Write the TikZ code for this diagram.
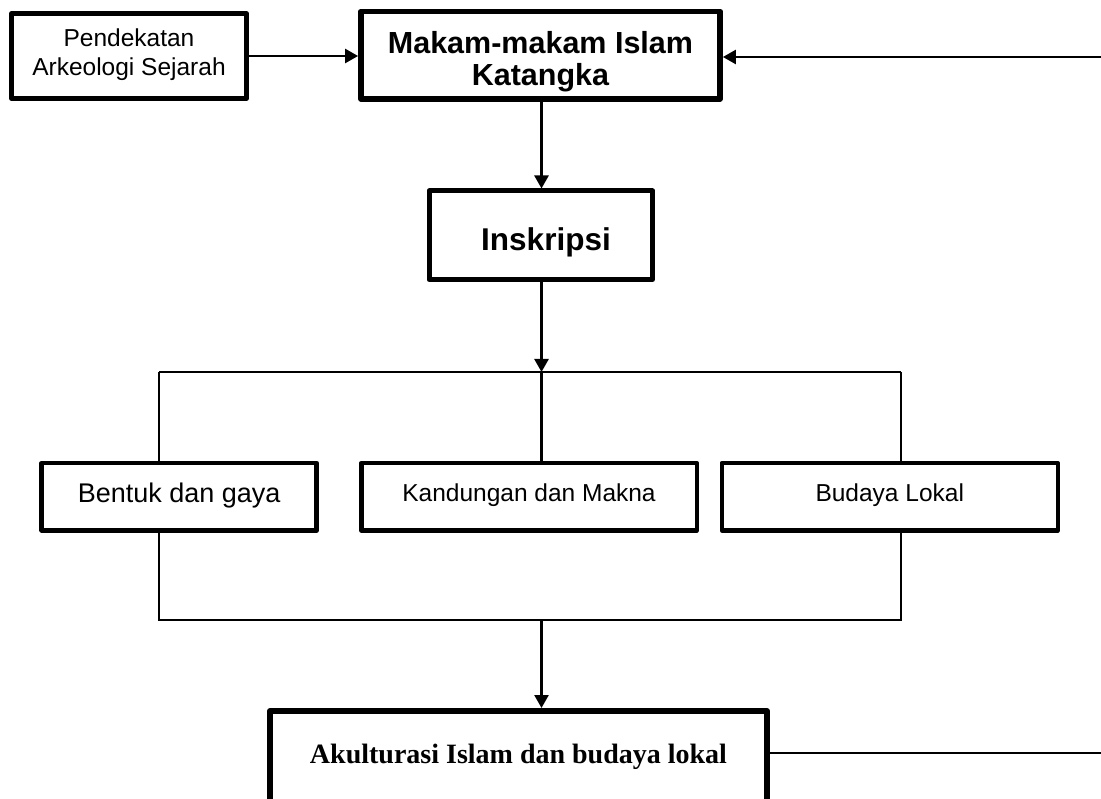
\documentclass[tikz,border=0pt]{standalone}
\usepackage{fontspec}
\setmainfont{Liberation Sans}
\newfontfamily\serifface{Liberation Serif}
\usetikzlibrary{arrows.meta}
\tikzset{
  box/.style={draw, line width=4.5pt, inner sep=0pt, line join=round, fill=white},
  thickbox/.style={box, line width=5.8pt},
  conn/.style={line width=2.5pt},
  arr/.style={conn, -{Triangle[length=13pt,width=14pt]}},
}
\begin{document}
\begin{tikzpicture}[x=1pt,y=-1pt]
\useasboundingbox (0,0) rectangle (1101,799);
\clip (0,0) rectangle (1101,799);
\fill[white] (0,0) rectangle (1101,799);

% boxes
\node[box, minimum width=235pt, minimum height=85pt, text height=10pt, text depth=28pt]
  (pend) at (129,56)
  {\fontsize{24.5}{29}\selectfont\begin{tabular}[t]{@{}c@{}}Pendekatan\\Arkeologi Sejarah\end{tabular}};
\node[thickbox, minimum width=359pt, minimum height=87.5pt, text height=15pt, text depth=18.9pt]
  (main) at (540.5,55.25)
  {\fontsize{30.5}{32.7}\selectfont\bfseries\begin{tabular}[t]{@{}c@{}}Makam-makam Islam\\Katangka\end{tabular}};
\node[thickbox, line width=5pt, minimum width=223.5pt, minimum height=88.5pt, text height=33pt, text depth=1.5pt]
  (insk) at (540.75,235.25)
  {\fontsize{31.5}{36}\selectfont\bfseries\hspace*{10.5pt}Inskripsi};
\node[box, minimum width=275pt, minimum height=67.3pt, text height=20pt, text depth=8pt]
  (bentuk) at (179.2,496.7)
  {\fontsize{27}{31}\selectfont Bentuk dan gaya};
\node[box, minimum width=335.5pt, minimum height=67.3pt, text height=18pt, text depth=9.4pt]
  (kand) at (529,496.7)
  {\fontsize{24.5}{29}\selectfont Kandungan dan Makna};
\node[box, minimum width=336pt, minimum height=67.3pt, text height=18pt, text depth=9.4pt]
  (budaya) at (889.75,496.7)
  {\fontsize{24.5}{29}\selectfont Budaya Lokal};
\node[thickbox, line width=6pt, minimum width=497pt, minimum height=101pt, text height=20pt, text depth=17pt]
  (akul) at (518.5,761.5)
  {\serifface\bfseries\fontsize{28}{32}\selectfont Akulturasi Islam dan budaya lokal};

% junction coordinates
\coordinate (rt) at (1101,57);
\coordinate (j1) at (541.5,372);
\coordinate (j1L) at (159,372);
\coordinate (j1R) at (901,372);
\coordinate (j2) at (541.5,620);
\coordinate (j2L) at (159,620);
\coordinate (j2R) at (901,620);
\coordinate (br) at (1101,753);

% connectors
\draw[arr] (pend.east) -- (pend.east -| main.west);
\draw[arr] (rt) -- (rt -| main.east);
\draw[arr] (j1 |- main.south) -- (j1 |- insk.north);
\draw[arr] (j1 |- insk.south) -- (j1);
\draw[conn] (j1L) -- (j1R);
\draw[conn] (j1L) -- (j1L |- bentuk.north);
\draw[conn] (j1) -- (j1 |- kand.north);
\draw[conn] (j1R) -- (j1R |- budaya.north);
\draw[conn] (j2L |- bentuk.south) -- (j2L) -- (j2R) -- (j2R |- budaya.south);
\draw[arr] (j2) -- (j2 |- akul.north);
\draw[conn] (akul.east |- br) -- (br);
\end{tikzpicture}
\end{document}
